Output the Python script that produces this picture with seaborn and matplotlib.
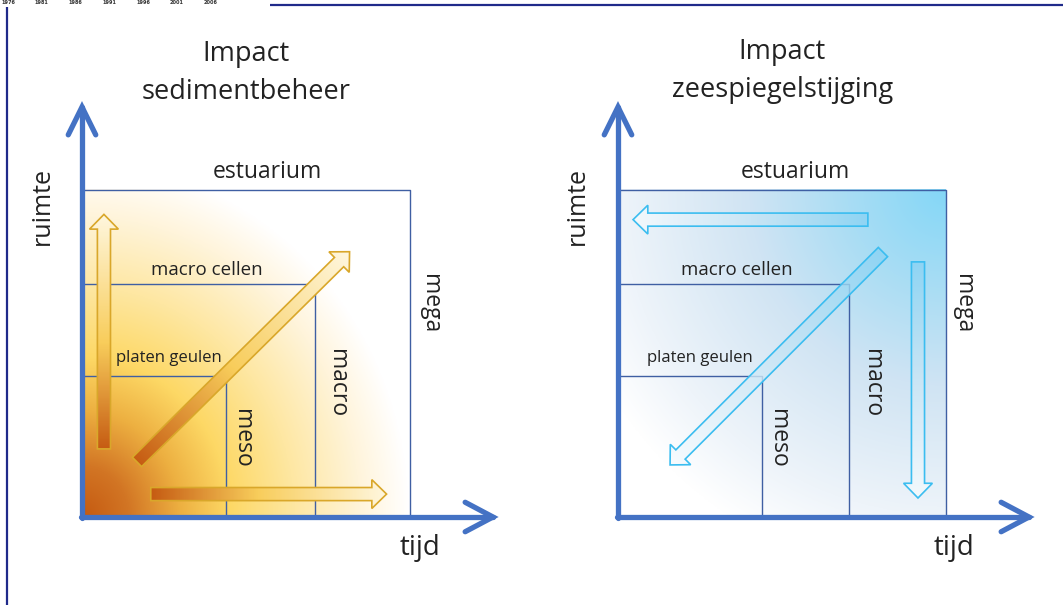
import numpy as np
import matplotlib
matplotlib.use("Agg")
import matplotlib.pyplot as plt
import seaborn as sns
import pandas as pd
from matplotlib.colors import LinearSegmentedColormap
from matplotlib.patches import Polygon

# ---------------- data ----------------
panel_titles = ["Impact\nsedimentbeheer", "Impact\nzeespiegelstijging"]
time_label = "tijd"
space_label = "ruimte"
region_names = ["platen geulen", "macro cellen", "estuarium"]
time_scale_names = ["meso", "macro", "mega"]
left_time_extent = [0.44, 0.71, 1.0]
left_space_extent = [0.43, 0.71, 1.0]
right_time_extent = [0.44, 0.705, 1.0]
right_space_extent = [0.43, 0.71, 1.0]
year_ticks = ["1976", "1981", "1986", "1991", "1996", "2001", "2006"]
# arrows (tail -> tip) in diagram units (time, space)
left_arrow_tails = [(0.067, 0.208), (0.168, 0.168), (0.210, 0.070)]
left_arrow_tips = [(0.067, 0.924), (0.817, 0.810), (0.930, 0.070)]
right_arrow_tails = [(0.763, 0.908), (0.809, 0.809), (0.916, 0.779)]
right_arrow_tips = [(0.046, 0.908), (0.159, 0.159), (0.916, 0.058)]

# ---------------- style ----------------
sns.set_theme(style="white")
plt.rcParams["font.family"] = ["Open Sans", "DejaVu Sans"]
TXT = "#222222"
AXBLUE = "#4472C4"
BOXLINE = "#3F5FA3"

W, H = 1063, 605
U = 327.5  # pixels per diagram unit
fig = plt.figure(figsize=(W / 100, H / 100), dpi=100)

# background axes in pixel coordinates (frame lines, year labels)
bg = fig.add_axes([0, 0, 1, 1])
bg.set_xlim(0, W)
bg.set_ylim(H, 0)
bg.axis("off")
bg.plot([7, 7], [7, H], color="#1F2A8A", lw=1.6, solid_capstyle="butt")
bg.plot([270, W], [5, 5], color="#1F2A8A", lw=1.6, solid_capstyle="butt")
for i, yr in enumerate(year_ticks):
    bg.text(8 + i * 33.8, 0.3, yr, fontsize=3.6, fontweight="bold", color="#333333",
            ha="center", va="top", family="DejaVu Sans")


def make_panel(rect_px, origin_px):
    x0px, x1px = rect_px
    ox, oy = origin_px
    ax = fig.add_axes([x0px / W, 0, (x1px - x0px) / W, 1])
    ax.set_facecolor("none")
    ax.axis("off")
    lims = ((x0px - ox) / U, (x1px - ox) / U, (oy - H) / U, oy / U)
    return ax, lims


def arrow_poly(tail, tip, w, hw, hl):
    t = np.array(tail, float)
    p = np.array(tip, float)
    d = p - t
    d /= np.linalg.norm(d)
    n = np.array([-d[1], d[0]])
    b = p - d * hl
    pts = [t + n * w / 2, b + n * w / 2, b + n * hw / 2, p,
           b - n * hw / 2, b - n * w / 2, t - n * w / 2]
    return np.array(pts)


def gradient_arrow(ax, tail, tip, cmap, edge, alpha=1.0, w=0.040, hw=0.088, hl=0.045, lw=1.2):
    pts = arrow_poly(tail, tip, w, hw, hl)
    patch = Polygon(pts, closed=True, facecolor="none", edgecolor=edge, lw=lw, zorder=6,
                    joinstyle="miter")
    clip = Polygon(pts, closed=True, facecolor="none", edgecolor="none", transform=ax.transData)
    ax.add_patch(clip)
    xmin, ymin = pts.min(axis=0) - 0.01
    xmax, ymax = pts.max(axis=0) + 0.01
    xs = np.linspace(xmin, xmax, 300)
    ys = np.linspace(ymin, ymax, 300)
    X, Y = np.meshgrid(xs, ys)
    t = np.array(tail)
    p = np.array(tip)
    d = p - t
    T = ((X - t[0]) * d[0] + (Y - t[1]) * d[1]) / (d @ d)
    T = np.clip(T, 0, 1)
    im = ax.imshow(T, extent=(xmin, xmax, ymin, ymax), origin="lower", cmap=cmap,
                   vmin=0, vmax=1, zorder=5, interpolation="bilinear", aspect="auto", alpha=alpha)
    im.set_clip_path(clip)
    ax.add_patch(patch)


def axis_arrows(ax):
    ytip = (517 - 107) / U
    xtip = (493 - 82) / U
    kw = dict(color=AXBLUE, lw=3.8, solid_capstyle="round", solid_joinstyle="miter", zorder=10)
    ax.plot([0, 0], [-0.004, ytip], **kw)
    ax.plot([-0.042, 0, 0.042], [ytip - 0.085, ytip, ytip - 0.085], **kw)
    ax.plot([-0.004, xtip], [0, 0], **kw)
    ax.plot([xtip - 0.085, xtip, xtip - 0.085], [0.045, 0, -0.045], **kw)


def boxes(ax, t_ext, s_ext):
    rows = []
    for name, t, s in zip(region_names, t_ext, s_ext):
        for (x, y) in [(0, s), (t, s), (t, 0)]:
            rows.append(dict(x=x, y=y, box=name))
    df = pd.DataFrame(rows)
    sns.lineplot(data=df, x="x", y="y", units="box", estimator=None, sort=False,
                 color=BOXLINE, lw=1.0, ax=ax, legend=False, zorder=4)
    ax.set_xlabel("")
    ax.set_ylabel("")


def labels(ax, title, pos):
    (tx, ty1, ty2, ex, cx, px, mx, mmx, mgx, tjx, rx) = pos
    t1, t2 = title.split("\n")
    ax.text(tx, ty1, t1, fontsize=19.5, color=TXT, ha="center", va="center")
    ax.text(tx, ty2, t2, fontsize=19.5, color=TXT, ha="center", va="center")
    ax.text(ex, 1.052, region_names[2], fontsize=16.5, color=TXT, ha="center", va="center")
    ax.text(cx, 0.754, region_names[1], fontsize=13.5, color=TXT, ha="center", va="center")
    ax.text(px, 0.485, region_names[0], fontsize=12, color=TXT, ha="center", va="center")
    ax.text(mx, 0.241, time_scale_names[0], fontsize=16.5, color=TXT, ha="center", va="center", rotation=-90)
    ax.text(mmx, 0.41, time_scale_names[1], fontsize=16.5, color=TXT, ha="center", va="center", rotation=-90)
    ax.text(mgx, 0.653, time_scale_names[2], fontsize=16.5, color=TXT, ha="center", va="center", rotation=-90)
    ax.text(rx, 0.950, space_label, fontsize=18, color=TXT, ha="center", va="center", rotation=90)
    ax.text(tjx, -0.095, time_label, fontsize=20, color=TXT, ha="center", va="center")


# ---------------- left panel ----------------
axL, limL = make_panel((0, W / 2), (82, 517))
cmapL = LinearSegmentedColormap.from_list(
    "sed", [(0.0, "#C55A11"), (0.14, "#D27524"), (0.30, "#EDB041"), (0.45, "#FDD865"),
            (0.65, "#FEE7A2"), (0.85, "#FFF4DA"), (1.0, "#FFFFFF")])
xs = np.linspace(0, 1, 400)
X, Y = np.meshgrid(xs, xs)
R = np.sqrt(X ** 2 + (Y / 1.08) ** 2) / 1.0
axL.imshow(np.clip(R, 0, 1), extent=(0, 1, 0, 1), origin="lower", cmap=cmapL,
           vmin=0, vmax=1, zorder=1, interpolation="bilinear", aspect="auto")
boxes(axL, left_time_extent, left_space_extent)
arrow_cmap_L = LinearSegmentedColormap.from_list(
    "arrL", [(0.0, "#C65C13"), (0.45, "#F8CD5B"), (1.0, "#FFF7DF")])
for tail, tip in zip(left_arrow_tails, left_arrow_tips):
    gradient_arrow(axL, tail, tip, arrow_cmap_L, "#D9A72A")
axis_arrows(axL)
labels(axL, panel_titles[0], (0.50, 1.414, 1.298, 0.565, 0.382, 0.266, 0.489, 0.779, 1.063, 1.032, -0.122))
axL.set_xlim(limL[0], limL[1])
axL.set_ylim(limL[2], limL[3])

# ---------------- right panel ----------------
axR, limR = make_panel((W / 2, W), (618, 517))
cmapR = LinearSegmentedColormap.from_list(
    "sea", [(0.0, "#84D7F7"), (0.25, "#A9DDF4"), (0.5, "#D0E4F3"), (0.83, "#EEF4FA"),
            (1.0, "#FFFFFF")])
R2 = np.sqrt((1 - X) ** 2 + (1 - Y) ** 2) / 1.2
axR.imshow(np.clip(R2, 0, 1), extent=(0, 1, 0, 1), origin="lower", cmap=cmapR,
           vmin=0, vmax=1, zorder=1, interpolation="bilinear", aspect="auto")
boxes(axR, right_time_extent, right_space_extent)
arrow_cmap_R = LinearSegmentedColormap.from_list(
    "arrR", [(0.0, "#8AD3F3"), (0.5, "#C8E6F6"), (1.0, "#F6FBFE")])
for tail, tip in zip(right_arrow_tails, right_arrow_tips):
    gradient_arrow(axR, tail, tip, arrow_cmap_R, "#3BBDF0", alpha=0.8)
axis_arrows(axR)
labels(axR, panel_titles[1], (0.501, 1.420, 1.304, 0.543, 0.363, 0.250, 0.489, 0.776, 1.053, 1.026, -0.125))
axR.set_xlim(limR[0], limR[1])
axR.set_ylim(limR[2], limR[3])

fig.savefig("out.png", dpi=100)
